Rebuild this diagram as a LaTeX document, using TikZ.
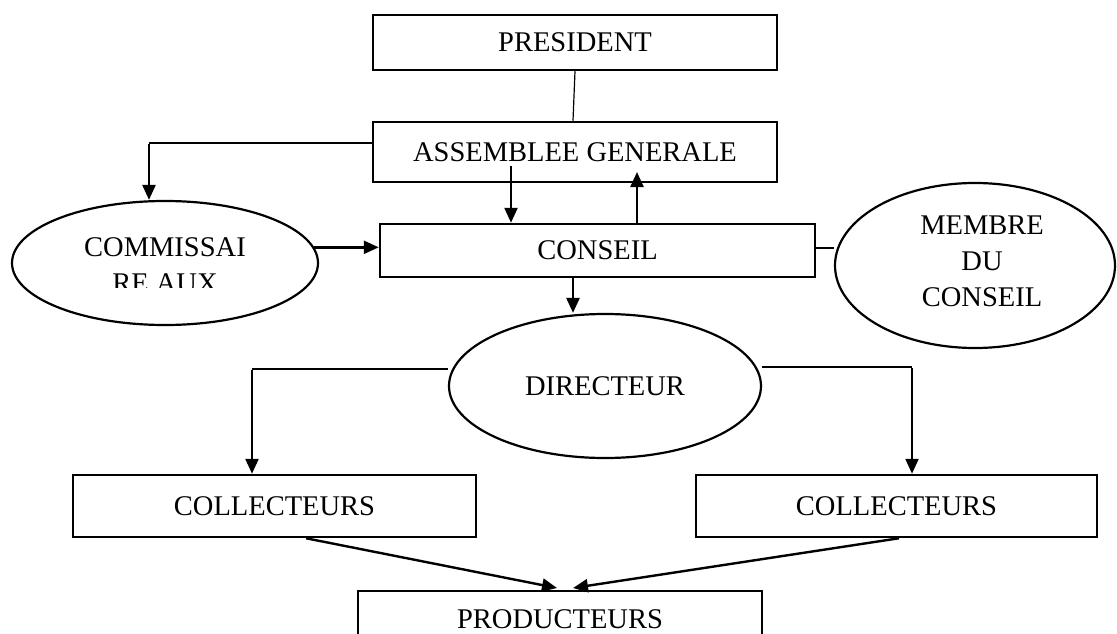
\documentclass[tikz,border=0pt]{standalone}
\usepackage{fontspec}
\setmainfont{Liberation Serif}
\usetikzlibrary{arrows.meta,shapes.geometric}
\begin{document}
\begin{tikzpicture}[x=1pt,y=-1pt,
  box/.style={draw,line width=2.5pt,rectangle,inner sep=0pt,font=\fontsize{28.5}{36}\selectfont},
  oval/.style={draw,line width=2.2pt,ellipse,inner sep=0pt},
  txt/.style={inner sep=0pt,align=center,font=\fontsize{28.5}{36}\selectfont},
  arr/.style={line width=2.4pt,-{Triangle[length=15pt,width=13pt]}},
  thickline/.style={line width=2.4pt},
  thinline/.style={line width=1.2pt}]
\useasboundingbox (0,0) rectangle (1117,634);
\fill[white] (0,0) rectangle (1117,634);
% boxes
\node[box,minimum width=404pt,minimum height=55pt] (pres) at (575,42.5) {PRESIDENT};
\node[box,minimum width=404pt,minimum height=60pt] (ag) at (575,152) {ASSEMBLEE GENERALE};
\node[box,minimum width=435pt,minimum height=53pt] (cons) at (597.5,250.5) {CONSEIL};
\node[box,minimum width=403pt,minimum height=62pt] (colL) at (274.5,506) {COLLECTEURS};
\node[box,minimum width=401pt,minimum height=62pt] (colR) at (896.5,506) {COLLECTEURS};
\node[box,minimum width=404pt,minimum height=56pt] (prod) at (560,619) {PRODUCTEURS};
% ellipses
\node[oval,minimum width=306pt,minimum height=124pt] (comm) at (165,263) {};
\node[oval,minimum width=280pt,minimum height=165pt] (memb) at (975,265.5) {};
\node[oval,minimum width=312pt,minimum height=144pt] (dir) at (605,386) {};
\begin{scope}
  \clip (0,150) rectangle (1117,287);
  \node[txt] (commtxt) at (165,265) {COMMISSAI\\RE AUX};
\end{scope}
\node[txt] (membtxt) at (982,261) {MEMBRE\\DU\\CONSEIL};
\node[txt] (dirtxt) at (605,386) {DIRECTEUR};
% connectors
\draw[thinline] (pres.south) -- ([xshift=-2pt]ag.north);
\coordinate (c1) at (149,143);
\draw[thinline] (ag.west |- c1) -- (c1);
\draw[arr] ([yshift=-0.6pt]c1) -- (c1 |- comm.north);
\draw[arr] (comm.6) -- (comm.6 -| cons.west);
\coordinate (agd) at (511,166);
\draw[arr] (agd) -- (agd |- cons.north);
\coordinate (agu) at (637,172);
\draw[arr] (agu |- cons.north) -- (agu);
\coordinate (cm) at (815,248);
\draw[thickline] (cm -| cons.east) -- (cm -| memb.west);
\coordinate (cd) at (573,0);
\draw[arr] (cd |- cons.south) -- (cd |- dir.north);
\coordinate (dl) at (252,369);
\draw[thinline] (dir.west |- dl) -- (dl);
\draw[arr] ([yshift=-0.6pt]dl) -- (dl |- colL.north);
\coordinate (dr) at (912,367);
\draw[thinline] (dir.east |- dr) -- (dr);
\draw[arr] ([yshift=-0.6pt]dr) -- (dr |- colR.north);
\coordinate (pl) at (557,588);
\coordinate (pr) at (573,588);
\draw[arr] ([xshift=31.5pt]colL.south) -- (pl);
\draw[arr] ([xshift=2.5pt]colR.south) -- (pr);
\end{tikzpicture}
\end{document}
